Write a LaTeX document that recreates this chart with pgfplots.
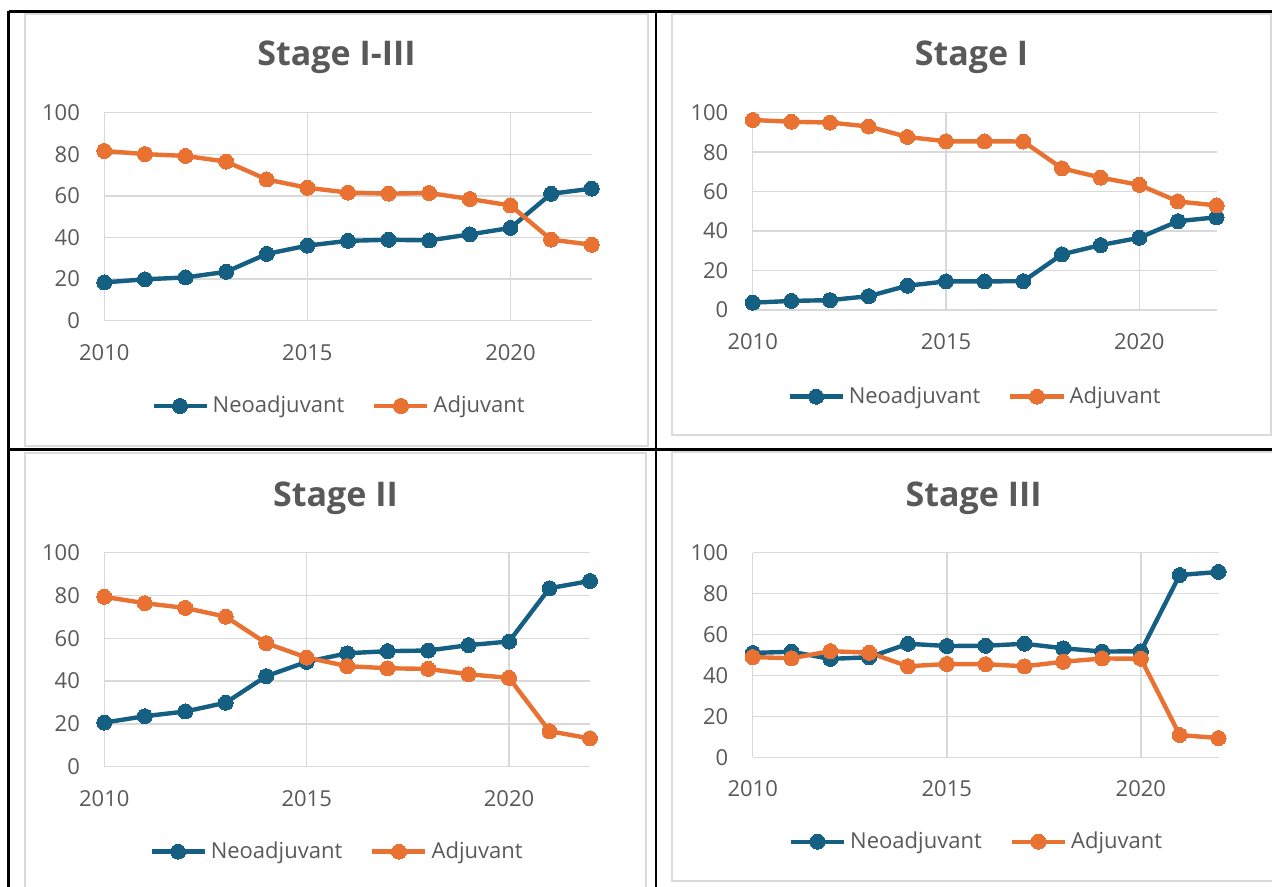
\documentclass[border=0pt]{standalone}
\usepackage{fontspec}
\setmainfont{Open Sans}
\usepackage{pgfplots}
\pgfplotsset{compat=1.18}

\definecolor{neo}{HTML}{156082}
\definecolor{adj}{HTML}{E97132}
\definecolor{gridgray}{HTML}{D9D9D9}
\definecolor{labgray}{HTML}{595959}
\definecolor{framegray}{HTML}{DADADA}

% shared look of the four trend panels
\pgfplotsset{
  panel/.style={
    scale only axis,
    xmin=2010, xmax=2022, ymin=0, ymax=100,
    xtick={2010,2015,2020}, ytick={0,20,40,60,80,100},
    grid=major,
    major grid style={draw=gridgray, line width=0.75pt},
    axis line style={draw=none},
    tick style={draw=none},
    /pgf/number format/assume math mode=true,
    /pgf/number format/1000 sep={},
    ticklabel style={font=\fontsize{11pt}{13pt}\selectfont, text=labgray},
    xticklabel style={inner sep=0pt, anchor=north, yshift=-11.5pt},
    yticklabel style={inner sep=0pt, anchor=east, xshift=-12pt},
    clip=false,
    legend columns=2,
    legend cell align=left,
    legend style={draw=none, fill=none, anchor=center,
      font=\fontsize{11pt}{13pt}\selectfont, text=labgray,
      nodes={inner sep=2pt},
      /tikz/every even column/.append style={column sep=12pt}},
    legend image code/.code={
      \draw[mark repeat=2, mark phase=2, #1]
        plot coordinates {(0pt,0pt) (13.25pt,0pt) (26.5pt,0pt)};},
  },
  neoline/.style={color=neo, line width=2.2pt, line join=round,
    mark=*, mark size=3.75pt, mark options={solid, fill=neo, line width=0pt}},
  adjline/.style={color=adj, line width=2.2pt, line join=round,
    mark=*, mark size=3.75pt, mark options={solid, fill=adj, line width=0pt}},
}

\begin{document}
\begin{tikzpicture}
\path[use as bounding box] (0pt,0pt) rectangle (636pt,-443.5pt);

% chart area frames
\draw[framegray, line width=0.75pt] (12.5pt,-7pt) rectangle (324pt,-223pt);
\draw[framegray, line width=0.75pt] (336pt,-7pt) rectangle (635.5pt,-217.5pt);
\draw[framegray, line width=0.75pt] (12.5pt,-226.5pt) rectangle (323pt,-447pt);
\draw[framegray, line width=0.75pt] (336pt,-226pt) rectangle (640pt,-440.5pt);

% table rules
\draw[black, line width=1.2pt] (4.25pt,-5.75pt) -- (636pt,-5.75pt);
\draw[black, line width=1.2pt] (4.25pt,-5.75pt) -- (4.25pt,-443.5pt);
\draw[black, line width=1.2pt] (328pt,-5.75pt) -- (328pt,-443.5pt);
\draw[black, line width=1.2pt] (4.25pt,-224.75pt) -- (636pt,-224.75pt);

% titles
\node[anchor=base, text=labgray, font=\fontsize{17pt}{20pt}\selectfont\bfseries] at (168.25pt,-32.85pt) {Stage I-III};
\node[anchor=base, text=labgray, font=\fontsize{17pt}{20pt}\selectfont\bfseries] at (485.75pt,-32.85pt) {Stage I};
\node[anchor=base, text=labgray, font=\fontsize{17pt}{20pt}\selectfont\bfseries] at (167.75pt,-253.35pt) {Stage II};
\node[anchor=base, text=labgray, font=\fontsize{17pt}{20pt}\selectfont\bfseries] at (486.8pt,-253.35pt) {Stage III};

% Stage I-III
\begin{axis}[panel, at={(52.15pt,-160.35pt)}, anchor=south west,
  width=243.7pt, height=104pt,
  legend style={at={(0.4836,-0.41)}}]
\addplot[neoline] coordinates {(2010,18.4) (2011,19.9) (2012,20.8) (2013,23.5) (2014,32.1) (2015,36.1) (2016,38.4) (2017,38.9) (2018,38.6) (2019,41.5) (2020,44.6) (2021,61.0) (2022,63.5)};
\addlegendentry{Neoadjuvant}
\addplot[adjline] coordinates {(2010,81.6) (2011,80.1) (2012,79.2) (2013,76.5) (2014,67.9) (2015,63.9) (2016,61.6) (2017,61.1) (2018,61.4) (2019,58.5) (2020,55.4) (2021,39.0) (2022,36.5)};
\addlegendentry{Adjuvant}
\end{axis}

% Stage I
\begin{axis}[panel, at={(376.35pt,-155pt)}, anchor=south west,
  width=231.95pt, height=98.65pt,
  legend style={at={(0.4814,-0.4394)}}]
\addplot[neoline] coordinates {(2010,3.7) (2011,4.6) (2012,5.0) (2013,7.0) (2014,12.3) (2015,14.5) (2016,14.5) (2017,14.6) (2018,28.2) (2019,32.9) (2020,36.6) (2021,45.0) (2022,47.0)};
\addlegendentry{Neoadjuvant}
\addplot[adjline] coordinates {(2010,96.3) (2011,95.4) (2012,95.0) (2013,93.0) (2014,87.7) (2015,85.5) (2016,85.5) (2017,85.4) (2018,71.8) (2019,67.1) (2020,63.4) (2021,55.0) (2022,53.0)};
\addlegendentry{Adjuvant}
\end{axis}

% Stage II
\begin{axis}[panel, at={(52.15pt,-383.35pt)}, anchor=south west,
  width=242.85pt, height=107pt,
  legend style={at={(0.4812,-0.397)}}]
\addplot[neoline] coordinates {(2010,20.6) (2011,23.6) (2012,25.8) (2013,29.9) (2014,42.3) (2015,49.0) (2016,53.0) (2017,54.0) (2018,54.3) (2019,56.8) (2020,58.5) (2021,83.4) (2022,86.8)};
\addlegendentry{Neoadjuvant}
\addplot[adjline] coordinates {(2010,79.4) (2011,76.4) (2012,74.2) (2013,70.1) (2014,57.7) (2015,51.0) (2016,47.0) (2017,46.0) (2018,45.7) (2019,43.2) (2020,41.5) (2021,16.6) (2022,13.2)};
\addlegendentry{Adjuvant}
\end{axis}

% Stage III
\begin{axis}[panel, at={(376.35pt,-378.65pt)}, anchor=south west,
  width=232.9pt, height=102.3pt,
  legend style={at={(0.4826,-0.4125)}}]
\addplot[neoline] coordinates {(2010,51.0) (2011,51.6) (2012,48.1) (2013,48.9) (2014,55.5) (2015,54.4) (2016,54.5) (2017,55.5) (2018,53.3) (2019,51.7) (2020,51.8) (2021,89.1) (2022,90.6)};
\addlegendentry{Neoadjuvant}
\addplot[adjline] coordinates {(2010,49.0) (2011,48.4) (2012,51.9) (2013,51.1) (2014,44.5) (2015,45.6) (2016,45.5) (2017,44.5) (2018,46.7) (2019,48.3) (2020,48.2) (2021,10.9) (2022,9.4)};
\addlegendentry{Adjuvant}
\end{axis}
\end{tikzpicture}
\end{document}
